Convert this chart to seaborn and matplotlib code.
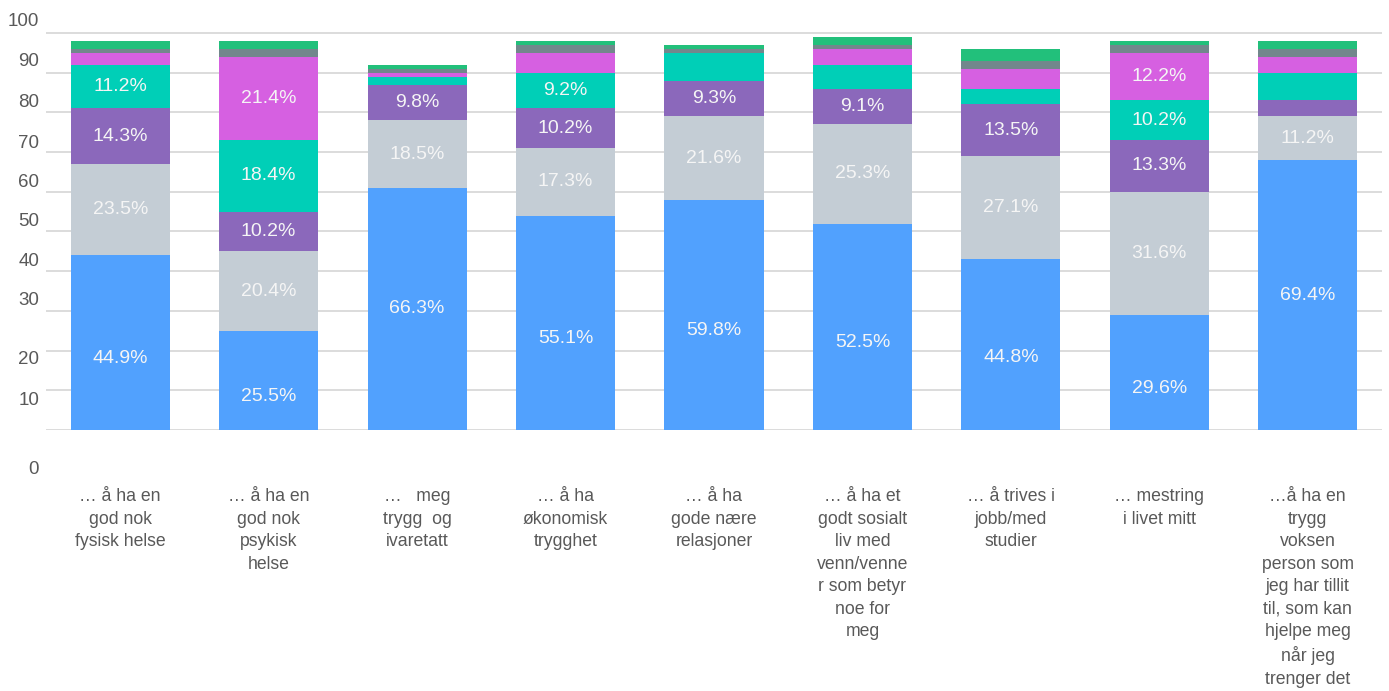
import numpy as np
import pandas as pd
import seaborn as sns
import matplotlib.pyplot as plt
from matplotlib.transforms import ScaledTranslation

categories = [
    "… å ha en\ngod nok\nfysisk helse",
    "… å ha en\ngod nok\npsykisk\nhelse",
    "…   meg\ntrygg  og\nivaretatt",
    "… å ha\nøkonomisk\ntrygghet",
    "… å ha\ngode nære\nrelasjoner",
    "… å ha et\ngodt sosialt\nliv med\nvenn/venne\nr som betyr\nnoe for\nmeg",
    "… å trives i\njobb/med\nstudier",
    "… mestring\ni livet mitt",
    "…å ha en\ntrygg\nvoksen\nperson som\njeg har tillit\ntil, som kan\nhjelpe meg\nnår jeg\ntrenger det",
]

# answer counts per category, bottom to top
blue = [44, 25, 61, 54, 58, 52, 43, 29, 68]
light_gray = [23, 20, 17, 17, 21, 25, 26, 31, 11]
purple = [14, 10, 9, 10, 9, 9, 13, 13, 4]
teal = [11, 18, 2, 9, 7, 6, 4, 10, 7]
magenta = [3, 21, 1, 5, 0, 4, 5, 12, 4]
dark_gray = [1, 2, 1, 2, 1, 1, 2, 2, 2]
green = [2, 2, 1, 1, 1, 2, 3, 1, 2]

yticks = list(range(0, 101, 10))

segments = [blue, light_gray, purple, teal, magenta, dark_gray, green]
colors = ["#51a1fe", "#c4cdd5", "#8b68bb", "#00cfb7", "#d660e1", "#72878c", "#22c07b"]

sns.set_theme(style="white")
plt.rcParams['font.family'] = ['Liberation Sans', 'DejaVu Sans']

df = pd.DataFrame(np.array(segments).T, columns=colors)
df.insert(0, "category", categories)
cum = df[colors].cumsum(axis=1)
total = cum[colors[-1]]

fig = plt.figure(figsize=(13.89, 6.91), dpi=100)
ax = fig.add_axes([46 / 1389, 1 - 430 / 691, 1336 / 1389, 400 / 691])

# stacked bars: draw cumulative heights from the top segment down
for c in reversed(colors):
    sns.barplot(x=df["category"], y=cum[c], color=c, saturation=1,
                width=0.667, order=categories, linewidth=0, ax=ax)

# the bottom labels sit a bit low in the source for most bars
blue_label_drop = [16, 16, 0, 16, 16, 16, 13, 16, 0]

for i in range(len(categories)):
    bottom = 0
    for j, c in enumerate(colors):
        h = df.loc[i, c]
        pct = h / total[i] * 100
        if pct >= 8:
            dy = -blue_label_drop[i] * 0.72 if j == 0 else 0
            ax.annotate(f"{pct:.1f}%", (i, bottom + h / 2), xytext=(0, dy),
                        textcoords="offset points", ha="center", va="center",
                        color="#f5f5f5", fontsize=14)
        bottom += h

ax.set_ylim(0, 100.75)
ax.set_xlim(-0.5, len(categories) - 0.5)
ax.set_yticks(yticks)
ax.set_xlabel("")
ax.set_ylabel("")
ax.set_axisbelow(True)
ax.yaxis.grid(True, color="#d9d9d9", lw=1.3)
for s in ax.spines.values():
    s.set_visible(False)

ax.tick_params(axis="y", length=0, labelsize=13.5, labelcolor="#595959", pad=5)
ax.tick_params(axis="x", length=0, pad=42)
ax.set_xticks(range(len(categories)))
ax.set_xticklabels(categories, fontsize=12.7, color="#595959", linespacing=1.42,
                   va="top", family=["Liberation Sans Narrow", "Liberation Sans"])

# the y labels in the source sit off their gridlines
shift_px = [37, 8, 7, -12, -12, -12, -11, -11, -12, -13, -13]
for lab, d in zip(ax.get_yticklabels(), shift_px):
    lab.set_transform(lab.get_transform() + ScaledTranslation(0, -d / 100, fig.dpi_scale_trans))

fig.savefig("out.png", dpi=100)
